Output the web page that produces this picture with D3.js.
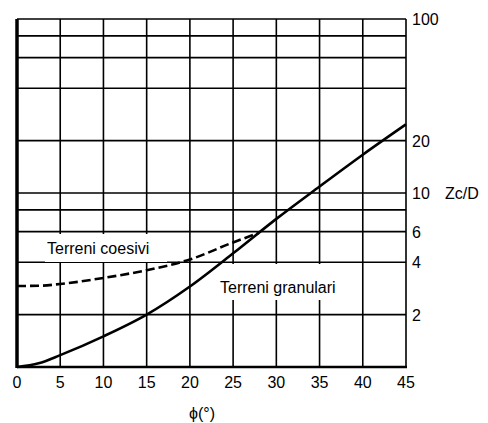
<!DOCTYPE html>
<html>
<head>
<meta charset="utf-8">
<script src="https://cdn.jsdelivr.net/npm/d3@7"></script>
<style>
  body { margin: 0; background: #fff; }
  svg text { font-family: "Liberation Sans", Arial, sans-serif; fill: #000; }
</style>
</head>
<body>
<svg width="488" height="423"></svg>
<script>
// values
var xTicks = [0, 5, 10, 15, 20, 25, 30, 35, 40, 45];
var yGrid = [1, 2, 4, 6, 8, 10, 20, 40, 60, 80, 100];
var yLabels = [2, 4, 6, 10, 20, 100];

var granPhi = [0, 2.5, 5, 10, 15, 20, 25, 30, 35, 40, 45];
var granZ   = [1, 1.05, 1.17, 1.5, 2.0, 2.9, 4.5, 7.1, 10.9, 16.6, 24.8];

var coesPhi = [0, 2.5, 5, 10, 15, 20, 25, 28];
var coesZ   = [2.92, 2.93, 3.0, 3.25, 3.6, 4.15, 5.2, 5.9];

var svg = d3.select("svg");

var x = d3.scaleLinear().domain([0, 45]).range([17, 406]);
var y = d3.scaleLog().domain([1, 100]).range([367, 19]);

var grid = svg.append("g").attr("stroke", "#000").attr("stroke-width", 1.6);

grid.selectAll(".vx")
    .data(xTicks)
    .enter().append("line")
    .attr("x1", function(d) { return x(d); })
    .attr("x2", function(d) { return x(d); })
    .attr("y1", y(1))
    .attr("y2", y(100));

grid.selectAll(".hy")
    .data(yGrid)
    .enter().append("line")
    .attr("x1", x(0))
    .attr("x2", x(45))
    .attr("y1", function(d) { return y(d); })
    .attr("y2", function(d) { return y(d); });

// thicker left and bottom frame
svg.append("line")
    .attr("x1", x(0)).attr("x2", x(0))
    .attr("y1", y(100)).attr("y2", y(1) + 1)
    .attr("stroke", "#000").attr("stroke-width", 3.5);
svg.append("line")
    .attr("x1", x(0)).attr("x2", x(45) + 1)
    .attr("y1", y(1)).attr("y2", y(1))
    .attr("stroke", "#000").attr("stroke-width", 2.5);

// curve labels with white boxes that hide the grid
function boxLabel(txt, tx, ty, bx, by, bw, bh) {
  svg.append("rect")
      .attr("x", bx).attr("y", by)
      .attr("width", bw).attr("height", bh)
      .attr("fill", "#fff");
  svg.append("text")
      .attr("x", tx).attr("y", ty)
      .attr("font-size", "16px")
      .text(txt);
}
boxLabel("Terreni coesivi", 47, 254, 45, 234, 122, 28);
boxLabel("Terreni granulari", 220, 293, 218, 264, 138, 36);

var line = d3.line()
    .x(function(d) { return x(d[0]); })
    .y(function(d) { return y(d[1]); })
    .curve(d3.curveMonotoneX);

svg.append("path")
    .datum(d3.zip(coesPhi, coesZ))
    .attr("d", line)
    .attr("fill", "none")
    .attr("stroke", "#000")
    .attr("stroke-width", 2.6)
    .attr("stroke-dasharray", "9,4");

svg.append("path")
    .datum(d3.zip(granPhi, granZ))
    .attr("d", line)
    .attr("fill", "none")
    .attr("stroke", "#000")
    .attr("stroke-width", 2.6);

// x tick labels
svg.append("g").selectAll("text")
    .data(xTicks)
    .enter().append("text")
    .attr("x", function(d) { return x(d); })
    .attr("y", 388)
    .attr("text-anchor", "middle")
    .attr("font-size", "16px")
    .text(function(d) { return d; });

// y tick labels on the right
svg.append("g").selectAll("text")
    .data(yLabels)
    .enter().append("text")
    .attr("x", 412)
    .attr("y", function(d) { return y(d) + 6; })
    .attr("font-size", "16px")
    .text(function(d) { return d; });

svg.append("text")
    .attr("x", 445)
    .attr("y", y(10) + 6)
    .attr("font-size", "16px")
    .text("Zc/D");

svg.append("text")
    .attr("x", 202)
    .attr("y", 419)
    .attr("text-anchor", "middle")
    .attr("font-size", "16px")
    .text("\u03d5(°)");
</script>
</body>
</html>
